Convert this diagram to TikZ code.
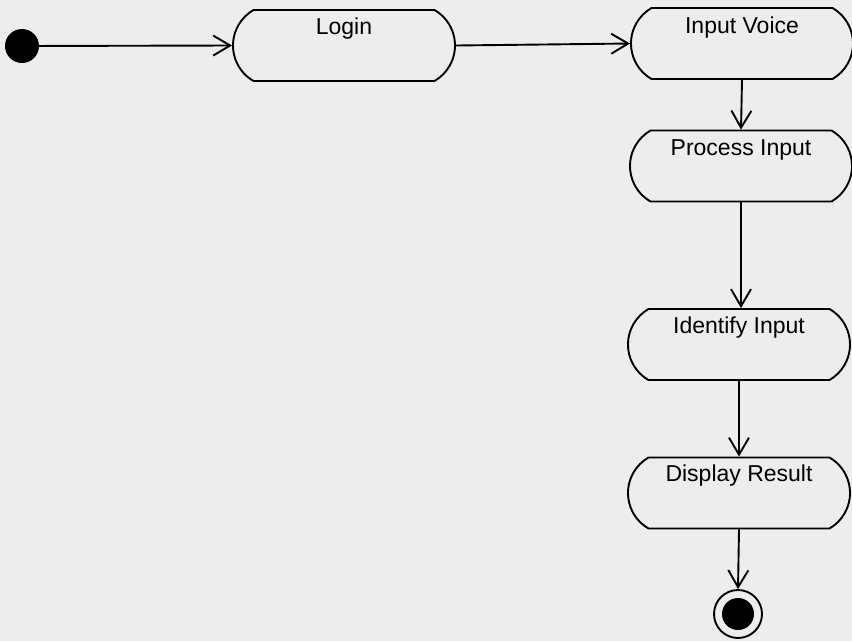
\documentclass[tikz,border=0pt]{standalone}
\usepackage{fontspec}
\setmainfont{Liberation Sans}
\usetikzlibrary{shapes.misc,arrows.meta}
\definecolor{bg}{RGB}{237,237,237}
\begin{document}
\begin{tikzpicture}[x=1pt,y=-1pt,
  act/.style={draw=black,line width=1.9pt,fill=bg,rounded rectangle,
    rounded rectangle arc length=120,minimum width=222pt,minimum height=71pt,inner sep=0pt},
  lbl/.style={anchor=base,inner sep=0pt,font=\fontsize{23}{26}\selectfont},
  flow/.style={draw=black,line width=1.9pt,-{Straight Barb[length=17pt,width=20pt,line width=1.9pt]}}]
\fill[bg] (0,0) rectangle (852,641);
\useasboundingbox (0,0) rectangle (852,641);
\node[circle,fill=black,minimum size=34pt,inner sep=0pt] (start) at (22,46) {};
\node[act] (login) at (344,45.5) {};
\node[act] (voice) at (742,43.5) {};
\node[act] (process) at (741,166) {};
\node[act] (identify) at (739,344.5) {};
\node[act] (display) at (739,493) {};
\node[circle,draw=black,line width=1.9pt,minimum size=48pt,inner sep=0pt] (final) at (738,614) {};
\node[circle,fill=black,minimum size=32pt,inner sep=0pt] (finaldot) at (final.center) {};
\node[lbl] (tlogin) at ([yshift=-25pt]login.north) {Login};
\node[lbl] (tvoice) at ([yshift=-26pt]voice.north) {Input Voice};
\node[lbl] (tprocess) at ([yshift=-26pt]process.north) {Process Input};
\node[lbl] (tidentify) at ([yshift=-25pt]identify.north) {Identify Input};
\node[lbl] (tdisplay) at ([yshift=-25pt]display.north) {Display Result};
\draw[flow] (start) -- (login.west);
\draw[flow] (login.east) -- (voice.west);
\draw[flow] (voice.south) -- (process.north);
\draw[flow] (process.south) -- (process.south |- identify.north);
\draw[flow] (identify.south) -- (display.north);
\draw[flow] (display.south) -- (final.north);
\end{tikzpicture}
\end{document}
